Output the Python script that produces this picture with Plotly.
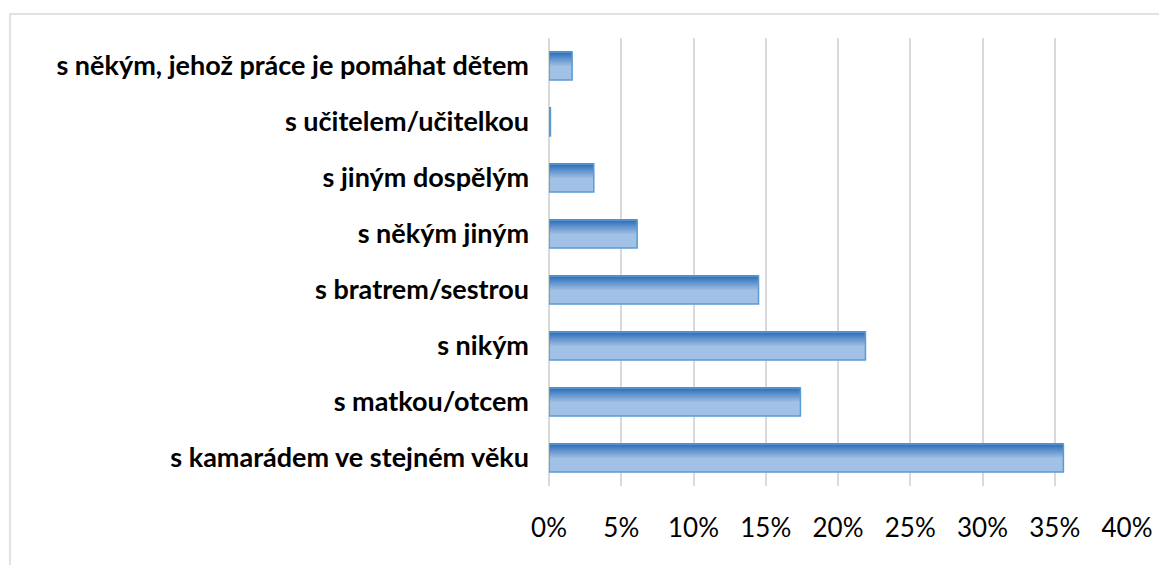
import plotly.graph_objects as go

categories = [
    "s kamarádem ve stejném věku",
    "s matkou/otcem",
    "s nikým",
    "s bratrem/sestrou",
    "s někým jiným",
    "s jiným dospělým",
    "s učitelem/učitelkou",
    "s někým, jehož práce je pomáhat dětem",
]
values = [0.356, 0.174, 0.219, 0.145, 0.061, 0.031, 0.001, 0.016]
tick_vals = [0, 0.05, 0.10, 0.15, 0.20, 0.25, 0.30, 0.35, 0.40]
tick_text = ["0%", "5%", "10%", "15%", "20%", "25%", "30%", "35%", "40%"]

# page has an 8px body margin; figure sized to fill the rest of the window
OFF = 8
W, H = 1167 - OFF, 565 - OFF
L, R, T, B = 549 - OFF, 40, 38 - OFF, 79
pw, ph = W - L - R, H - T - B

BAR_W = 0.5
fig = go.Figure()

# base bar (light lower part)
fig.add_trace(go.Bar(
    y=categories, x=values, orientation="h", width=BAR_W,
    marker=dict(color="#a2c1e6", line=dict(width=0)),
    hoverinfo="skip", showlegend=False,
))

def lerp(c1, c2, t):
    a = [int(c1[i:i+2], 16) for i in (1, 3, 5)]
    b = [int(c2[i:i+2], 16) for i in (1, 3, 5)]
    return "rgb(%d,%d,%d)" % tuple(round(a[k] + (b[k] - a[k]) * t) for k in range(3))

# gradient bands in the upper half of each bar
n = 16
grad_frac = 0.55
band = grad_frac * BAR_W / n
for j in range(n):
    t = max(0.0, (j - 2) / (n - 3))
    fig.add_trace(go.Bar(
        y=categories, x=values, orientation="h", width=band * 1.5,
        offset=BAR_W / 2 - (j + 1) * band,
        marker=dict(color=lerp("#3674bb", "#a2c1e6", t), line=dict(width=0)),
        hoverinfo="skip", showlegend=False,
    ))

# outline
fig.add_trace(go.Bar(
    y=categories, x=values, orientation="h", width=BAR_W,
    marker=dict(color="rgba(0,0,0,0)", line=dict(color="#5b9bd5", width=1.5)),
    hoverinfo="skip", showlegend=False,
))

def px(x):
    return (x - OFF - L) / pw

def py(y):
    return (H - B - (y - OFF)) / ph

fig.add_shape(type="rect", xref="paper", yref="paper",
              x0=px(10), x1=px(1190), y0=py(14), y1=py(590),
              line=dict(color="#d9d9d9", width=1.5), fillcolor="rgba(0,0,0,0)", layer="below")

fig.update_layout(
    width=W, height=H,
    margin=dict(l=L, r=R, t=T, b=B, autoexpand=False),
    barmode="overlay",
    plot_bgcolor="white", paper_bgcolor="white",
    font=dict(family="Lato, Carlito, Calibri, sans-serif", color="#000000"),
    xaxis=dict(
        range=[0, 0.4], tickvals=tick_vals, ticktext=tick_text,
        showgrid=True, gridcolor="#d9d9d9", gridwidth=1.5,
        zeroline=True, zerolinecolor="#d9d9d9", zerolinewidth=1.5,
        showline=False, ticks="", ticklabelstandoff=24,
        tickfont=dict(size=26, color="#000000"),
    ),
    yaxis=dict(
        categoryorder="array", categoryarray=categories,
        range=[-0.5, len(categories) - 0.5],
        showgrid=False, zeroline=False, showline=False, ticks="",
        ticklabelstandoff=19,
        tickfont=dict(size=27, color="#000000", weight="bold"),
    ),
)

fig.write_html("out.html")
